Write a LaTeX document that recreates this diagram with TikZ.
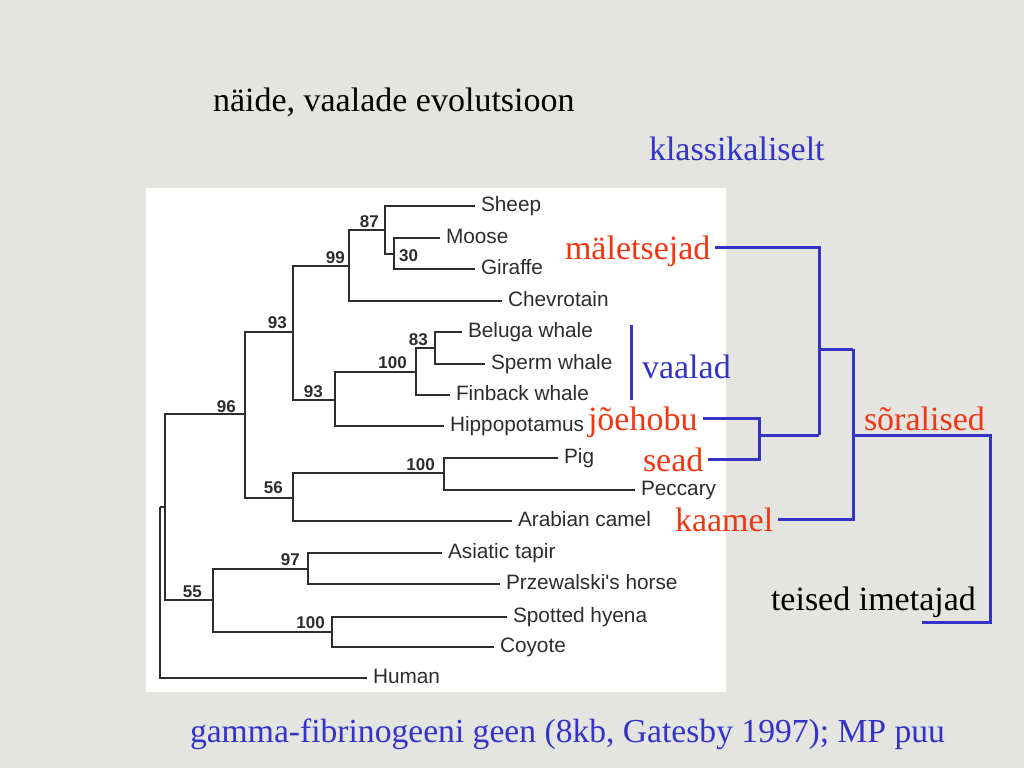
\documentclass[tikz,border=0pt]{standalone}
\usepackage{fontspec}
\setmainfont{Liberation Serif}
\newfontfamily\treefont{Liberation Sans}
\definecolor{bgc}{RGB}{228,228,225}
\definecolor{redc}{RGB}{240,55,20}
\definecolor{bluec}{RGB}{51,51,200}
\definecolor{treec}{RGB}{45,45,45}
\begin{document}
\begin{tikzpicture}[x=1pt,y=-1pt,
  branch/.style={draw=treec,line width=1.8pt},
  leaf/.style={anchor=west,inner sep=0pt,outer xsep=6pt,text=treec,font=\treefont\fontsize{20.8}{20.8}\selectfont,text height=15pt,text depth=4.6pt},
  boot/.style={anchor=base east,inner sep=0pt,text=treec,font=\treefont\bfseries\fontsize{17}{17}\selectfont},
  lab/.style={anchor=base west,inner sep=0pt,outer xsep=5pt,font=\fontsize{34}{34}\selectfont,text height=24pt,text depth=0pt},
  redlab/.style={lab,text=redc},
  bluelab/.style={lab,text=bluec},
  blacklab/.style={lab,text=black},
  bline/.style={draw=bluec,line width=3pt}]
\useasboundingbox (0,0) rectangle (1024,768);
\fill[bgc] (0,0) rectangle (1024,768);
\fill[white] (146,188) rectangle (726,692);
% texts
\node[blacklab] (title) at (208,111) {näide, vaalade evolutsioon};
\node[bluelab] (klass) at (644,160) {klassikaliselt};
\node[bluelab,font=\fontsize{33.6}{34}\selectfont] (gamma) at (185,742) {gamma-fibrinogeeni geen (8kb, Gatesby 1997); MP puu};
% tree internal nodes
\coordinate (r) at (160,507);
\coordinate (a) at (165,507);
\coordinate (n96) at (245,414);
\coordinate (n93u) at (293,332);
\coordinate (n99) at (349,266);
\coordinate (n87) at (385,230);
\coordinate (n30) at (394,254);
\coordinate (n93l) at (335,400);
\coordinate (n100w) at (416,372);
\coordinate (n83) at (435,348);
\coordinate (n56) at (293,498);
\coordinate (n100p) at (444,473);
\coordinate (n55) at (213,600);
\coordinate (n97) at (308,569);
\coordinate (n100h) at (332,632);
% leaves
\node[leaf] (sheep) at (475,206) {Sheep};
\node[leaf] (moose) at (440,238) {Moose};
\node[leaf] (giraffe) at (475,269) {Giraffe};
\node[leaf] (chev) at (502,301) {Chevrotain};
\node[leaf] (beluga) at (462,332) {Beluga whale};
\node[leaf] (sperm) at (485,364) {Sperm whale};
\node[leaf] (finback) at (450,395) {Finback whale};
\node[leaf] (hippo) at (444,426) {Hippopotamus};
\node[leaf] (pig) at (558,458) {Pig};
\node[leaf] (peccary) at (635,490) {Peccary};
\node[leaf] (camel) at (512,521) {Arabian camel};
\node[leaf] (tapir) at (442,553) {Asiatic tapir};
\node[leaf] (horse) at (500,584) {Przewalski's horse};
\node[leaf] (hyena) at (507,617) {Spotted hyena};
\node[leaf] (coyote) at (494,647) {Coyote};
\node[leaf] (human) at (367,678) {Human};
% branches
\draw[branch] (r) |- (human.west);
\draw[branch] (r) -- (a);
\draw[branch] (a) |- (n96);
\draw[branch] (a) |- (n55);
\draw[branch] (n96) |- (n93u);
\draw[branch] (n96) |- (n56);
\draw[branch] (n93u) |- (n99);
\draw[branch] (n93u) |- (n93l);
\draw[branch] (n99) |- (n87);
\draw[branch] (n99) |- (chev.west);
\draw[branch] (n87) |- (sheep.west);
\draw[branch] (n87) |- (n30);
\draw[branch] (n30) |- (moose.west);
\draw[branch] (n30) |- (giraffe.west);
\draw[branch] (n93l) |- (n100w);
\draw[branch] (n93l) |- (hippo.west);
\draw[branch] (n100w) |- (n83);
\draw[branch] (n100w) |- (finback.west);
\draw[branch] (n83) |- (beluga.west);
\draw[branch] (n83) |- (sperm.west);
\draw[branch] (n56) |- (n100p);
\draw[branch] (n56) |- (camel.west);
\draw[branch] (n100p) |- (pig.west);
\draw[branch] (n100p) |- (peccary.west);
\draw[branch] (n55) |- (n97);
\draw[branch] (n55) |- (n100h);
\draw[branch] (n97) |- (tapir.west);
\draw[branch] (n97) |- (horse.west);
\draw[branch] (n100h) |- (hyena.west);
\draw[branch] (n100h) |- (coyote.west);
% bootstrap values
\node[boot] (b87) at (379,227) {87};
\node[boot,anchor=base west] (b30) at (399,261) {30};
\node[boot] (b99) at (345,263) {99};
\node[boot] (b93u) at (287,328) {93};
\node[boot] (b96) at (236,412) {96};
\node[boot] (b93l) at (323,397) {93};
\node[boot] (b100w) at (407,368) {100};
\node[boot] (b83) at (428,345) {83};
\node[boot] (b56) at (283,493) {56};
\node[boot] (b100p) at (435,470) {100};
\node[boot] (b97) at (300,565) {97};
\node[boot] (b55) at (202,597) {55};
\node[boot] (b100h) at (325,628) {100};
% classical tree
\node[redlab] (mal) at (560,259) {mäletsejad};
\node[bluelab] (vaalad) at (637,378) {vaalad};
\node[redlab] (joe) at (583,430) {jõehobu};
\node[redlab] (sead) at (638,471) {sead};
\node[redlab] (kaamel) at (670,531) {kaamel};
\node[redlab] (sor) at (859,430) {sõralised};
\node[blacklab] (teised) at (766,610) {teised imetajad};
\coordinate (vtop) at (631,325);
\coordinate (vbot) at (631,400);
\coordinate (cjs) at (759,435);
\coordinate (cmal) at (819,349);
\coordinate (csor) at (853,435);
\coordinate (cend) at (990,622);
\coordinate (tend) at (922,622);
\draw[bline] (vtop) -- (vbot);
\draw[bline] (joe.east) -| (cjs) |- (sead.east);
\draw[bline] (cjs) -- (cjs -| cmal);
\draw[bline] (mal.east) -| (cmal) -- (cjs -| cmal);
\draw[bline] (cmal) -- (cmal -| csor);
\draw[bline] (cmal -| csor) -- (csor) |- (kaamel.east);
\draw[bline] (csor) -| (cend) -- (tend);
\end{tikzpicture}
\end{document}
